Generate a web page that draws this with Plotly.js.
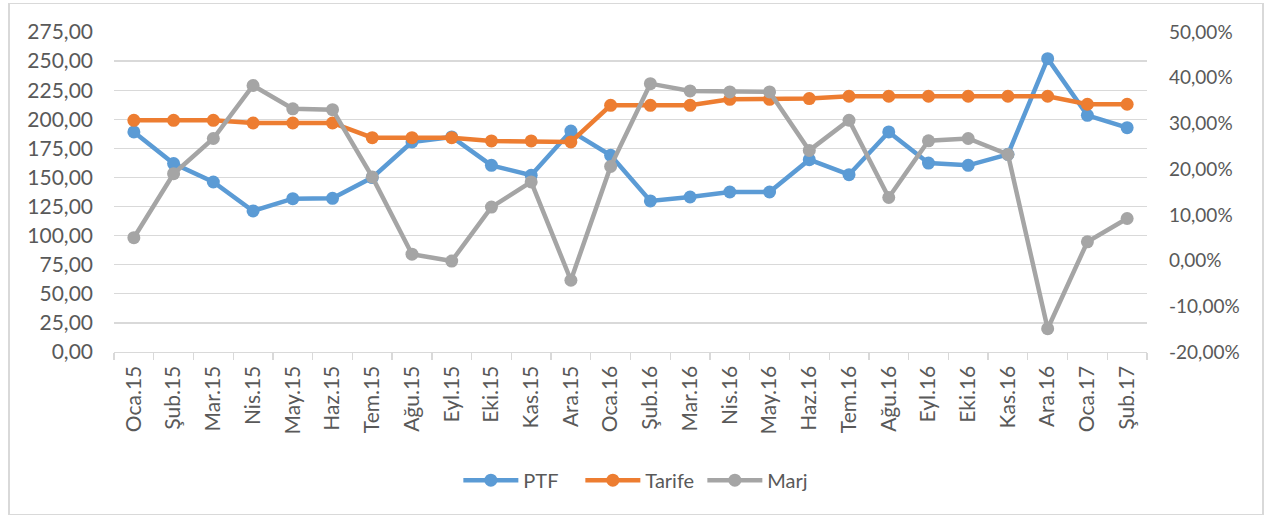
<!DOCTYPE html>
<html>
<head>
<meta charset="utf-8">
<script src="https://cdn.plot.ly/plotly-3.0.1.min.js"></script>
<style>
  html, body { margin: 0; padding: 0; background: #fff; }
  #wrap { position: relative; width: 1270px; height: 518px; }
  #chart { position: absolute; left: 0; top: 0; width: 1270px; height: 518px; }
  #frame { position: absolute; left: 8px; top: 3px; width: 1256px; height: 512px;
           border: 1px solid #d9d9d9; border-left-width: 2px; border-right-width: 2px; pointer-events: none; box-sizing: border-box; }
</style>
</head>
<body>
<div id="wrap">
  <div id="chart"></div>
  <div id="frame"></div>
</div>
<script>
const categories = ["Oca.15","Şub.15","Mar.15","Nis.15","May.15","Haz.15","Tem.15","Ağu.15","Eyl.15","Eki.15","Kas.15","Ara.15",
                    "Oca.16","Şub.16","Mar.16","Nis.16","May.16","Haz.16","Tem.16","Ağu.16","Eyl.16","Eki.16","Kas.16","Ara.16",
                    "Oca.17","Şub.17"];
const ptf    = [189.1,161.9,146.1,121.2,131.8,132.1,149.9,180.5,184.8,160.4,151.9,189.9,
                169.0,129.8,133.2,137.5,137.5,165.3,152.4,189.1,162.4,160.4,169.9,252.1,
                203.4,192.8];
const tarife = [199.1,199.1,199.1,196.8,196.8,196.8,184.2,184.2,184.2,181.4,181.4,180.5,
                212.0,212.0,212.0,217.1,217.1,217.8,219.8,219.8,219.8,219.8,219.8,219.8,
                212.9,212.9];
const marj   = [5.0,19.0,26.7,38.3,33.2,33.0,18.3,1.4,-0.1,11.7,17.2,-4.3,
                20.6,38.7,37.1,36.9,36.9,24.1,30.7,13.8,26.2,26.7,23.2,-14.9,
                4.1,9.2];
const leftTickVals  = [0,25,50,75,100,125,150,175,200,225,250,275];
const leftTickText  = ["0,00","25,00","50,00","75,00","100,00","125,00","150,00","175,00","200,00","225,00","250,00","275,00"];
const rightTickVals = [-20,-10,0,10,20,30,40,50];
const rightTickText = ["-20,00%","-10,00%","0,00%","10,00%","20,00%","30,00%","40,00%","50,00%"];
const seriesNames = ["PTF","Tarife","Marj"];

const FONT = "Lato, 'Noto Sans', sans-serif";
const lw = 4.5, ms = 13;

const traces = [
  {x: categories, y: ptf, name: seriesNames[0], type: "scatter", mode: "lines+markers",
   line: {color: "#5B9BD5", width: lw}, marker: {color: "#5B9BD5", size: ms}},
  {x: categories, y: tarife, name: seriesNames[1], type: "scatter", mode: "lines+markers",
   line: {color: "#ED7D31", width: lw}, marker: {color: "#ED7D31", size: ms}},
  {x: categories, y: marj, name: seriesNames[2], type: "scatter", mode: "lines+markers", yaxis: "y2",
   line: {color: "#A5A5A5", width: lw}, marker: {color: "#A5A5A5", size: ms}}
];

const layout = {
  width: 1270, height: 518,
  margin: {l: 114, r: 123, t: 32, b: 166, pad: 0},
  paper_bgcolor: "#ffffff", plot_bgcolor: "#ffffff",
  font: {family: FONT, size: 19, color: "#595959"},
  showlegend: true,
  legend: {orientation: "h", xref: "container", yref: "container", x: 0.505, y: 0.073,
           xanchor: "center", yanchor: "middle", font: {family: FONT, size: 20, color: "#595959"},
           itemwidth: 55, entrywidth: 52, entrywidthmode: "pixels", tracegroupgap: 0, bgcolor: "rgba(0,0,0,0)"},
  xaxis: {type: "category", range: [-0.5, categories.length - 0.5], autorange: false,
          tickangle: -90, showgrid: false, showline: true, linecolor: "#d9d9d9", linewidth: 1.3,
          ticks: "outside", tickson: "boundaries", ticklen: 7, tickcolor: "#d9d9d9", tickwidth: 1.3,
          ticklabelstandoff: 4,
          tickfont: {family: FONT, size: 21, color: "#595959"}, zeroline: false, fixedrange: true},
  yaxis: {range: [0, 275], tickvals: leftTickVals, ticktext: leftTickText, showgrid: true, gridcolor: "#d9d9d9", gridwidth: 1.3,
          zeroline: false, showline: false, ticks: "", ticklabelstandoff: 20,
          tickfont: {family: FONT, size: 21, color: "#595959"}},
  yaxis2: {range: [-20, 50], overlaying: "y", side: "right", tickvals: rightTickVals, ticktext: rightTickText,
           showgrid: false, zeroline: false, showline: false, ticks: "", ticklabelstandoff: 21,
           tickfont: {family: FONT, size: 19, color: "#595959"}}
};

Plotly.newPlot("chart", traces, layout, {displayModeBar: false, staticPlot: true});
</script>
</body>
</html>
